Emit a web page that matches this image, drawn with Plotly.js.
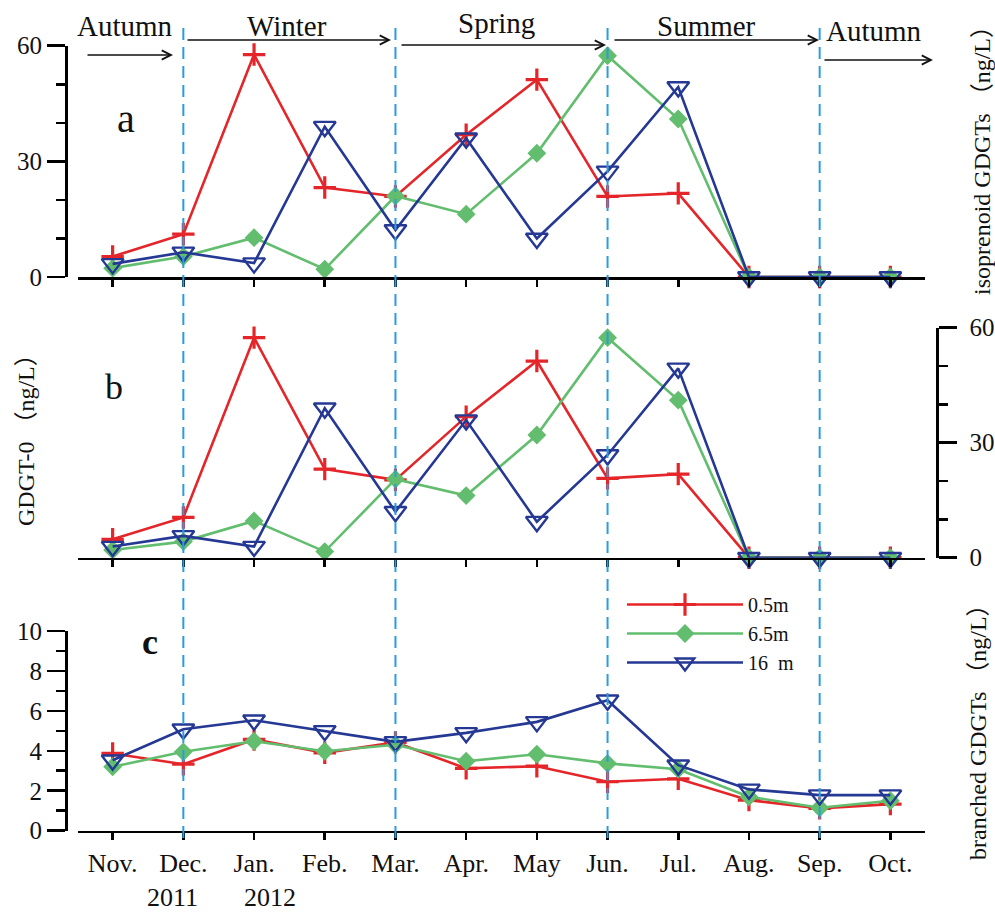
<!DOCTYPE html>
<html>
<head>
<meta charset="utf-8">
<script src="https://cdn.plot.ly/plotly-3.0.1.min.js"></script>
<style>html,body{margin:0;padding:0;background:#fff;}#chart{width:995px;height:912px;}</style>
</head>
<body>
<div id="chart"></div>
<script>
// ---------- data ----------
const months = ['Nov.','Dec.','Jan.','Feb.','Mar.','Apr.','May','Jun.','Jul.','Aug.','Sep.','Oct.'];
const depths = ['0.5m', '6.5m', '16\u00a0\u00a0m'];

// panel a: isoprenoid GDGTs (ng/L)
const iso_05 = [5.3, 11.1, 57.7, 23.2, 20.9, 36.9, 51.2, 20.9, 21.7, 0, 0, 0];
const iso_65 = [2.3, 5.3, 10.2, 2.0, 21.0, 16.3, 32.1, 57.4, 41.0, 0, 0, 0];
const iso_16 = [3.4, 6.4, 3.6, 39.0, 12.2, 36.0, 10.0, 27.4, 49.3, 0, 0, 0];

// panel b: GDGT-0 (ng/L)
const g0_05 = [4.8, 10.5, 57.4, 23.1, 20.3, 36.8, 51.3, 20.7, 21.8, 0, 0, 0];
const g0_65 = [2.0, 4.2, 9.6, 1.6, 20.5, 16.2, 32.0, 57.4, 41.1, 0, 0, 0];
const g0_16 = [2.9, 5.7, 2.9, 39.0, 12.0, 35.9, 9.4, 26.8, 49.4, 0, 0, 0];

// panel c: branched GDGTs (ng/L)
const br_05 = [3.87, 3.33, 4.57, 3.90, 4.42, 3.12, 3.23, 2.45, 2.60, 1.53, 1.12, 1.33];
const br_65 = [3.20, 3.95, 4.48, 3.98, 4.30, 3.48, 3.83, 3.37, 3.08, 1.70, 1.15, 1.50];
const br_16 = [3.53, 5.08, 5.53, 5.00, 4.45, 4.90, 5.45, 6.53, 3.28, 2.07, 1.78, 1.78];

const seasonBounds = ['Dec.', 'Mar.', 'Jun.', 'Sep.'];
const seasons = ['Autumn', 'Winter', 'Spring', 'Summer', 'Autumn'];
const yearLabels = ['2011', '2012'];
const panelLetters = ['a', 'b', 'c'];
const axisTitles = ['isoprenoid GDGTs \uff08ng/L\uff09', 'GDGT-0 \uff08ng/L\uff09', 'branched GDGTs \uff08ng/L\uff09'];

// ---------- styling ----------
const W = 995, H = 912;
const px = v => v / W;
const py = v => 1 - v / H;
const FONT = 'Liberation Serif, "Times New Roman", "Noto Sans CJK SC", serif';
const RED = 'rgb(228,38,42)', GREEN = 'rgb(98,190,110)', BLUE = 'rgb(36,56,148)', DASH = 'rgb(44,156,222)';

const styles = [
  {color: RED, marker: {symbol: 'cross-thin', size: 16, color: RED, line: {color: RED, width: 3.2}}},
  {color: GREEN, marker: {symbol: 'diamond', size: 14.5, color: GREEN, line: {width: 0}}},
  {color: BLUE, marker: {symbol: 'triangle-down-open', size: 19, color: BLUE, line: {color: BLUE, width: 2.4}}}
];

const panels = [
  {series: [iso_05, iso_65, iso_16], xa: 'x', ya: 'y', legend: false},
  {series: [g0_05, g0_65, g0_16], xa: 'x2', ya: 'y2', legend: false},
  {series: [br_05, br_65, br_16], xa: 'x3', ya: 'y3', legend: true}
];

const traces = [];
panels.forEach(p => {
  p.series.forEach((vals, i) => {
    traces.push({
      type: 'scatter', mode: 'lines+markers',
      x: months, y: vals, xaxis: p.xa, yaxis: p.ya,
      name: depths[i], legendgroup: depths[i], showlegend: p.legend,
      line: {color: styles[i].color, width: 2.6},
      marker: styles[i].marker,
      cliponaxis: false, hoverinfo: 'skip'
    });
  });
});

const axBase = {
  showline: true, linecolor: '#000', linewidth: 2.6, showgrid: false, zeroline: false,
  ticks: 'outside', tickcolor: '#000', tickwidth: 2.6,
  tickfont: {family: FONT, size: 25, color: '#111'}, fixedrange: true
};

function xAxis(anchor, labels) {
  return Object.assign({}, axBase, {
    type: 'category', anchor: anchor, domain: [px(78), px(925)], range: [-0.49, 11.49],
    ticklen: 7, showticklabels: labels, tickfont: {family: FONT, size: 26, color: '#111'},
    categoryorder: 'array', categoryarray: months
  });
}
function yAxis(domain, range, major, minor, side, pos, labels, overlay) {
  const a = Object.assign({}, axBase, {
    anchor: 'free', position: pos, side: side, range: range,
    tickmode: 'array', tickvals: major, ticklen: 18, showticklabels: labels,
    minor: {tickmode: 'array', tickvals: minor, ticks: 'outside', ticklen: 9, tickwidth: 2.6, tickcolor: '#000', showgrid: false}
  });
  if (overlay) a.overlaying = overlay; else a.domain = domain;
  return a;
}

const domA = [py(277), py(45.7)];
const domB = [py(557.7), py(327.7)];
const domC = [py(830.7), py(631)];
const LPOS = px(66), RPOS = px(937);

const yB = yAxis(domB, [0, 60], [0, 30, 60], [10, 20, 40, 50], 'right', RPOS, true);
yB.ticklabelstandoff = 8;

const layout = {
  width: W, height: H, autosize: false,
  margin: {l: 0, r: 0, t: 0, b: 0, pad: 0},
  paper_bgcolor: '#fff', plot_bgcolor: 'rgba(0,0,0,0)',
  font: {family: FONT, color: '#111'},
  showlegend: true,
  legend: {
    x: px(622), y: py(585), xanchor: 'left', yanchor: 'top',
    bgcolor: 'rgba(0,0,0,0)', borderwidth: 0,
    font: {family: FONT, size: 20, color: '#111'},
    itemwidth: 116, tracegroupgap: 0, traceorder: 'normal', itemclick: false, itemdoubleclick: false
  },
  xaxis: xAxis('y', false),
  xaxis2: xAxis('y2', false),
  xaxis3: xAxis('y3', true),
  // panel a: left labelled, right overlay unlabelled
  yaxis: yAxis(domA, [0, 60], [0, 30, 60], [10, 20, 40, 50], 'left', LPOS, true),
  yaxis4: yAxis(null, [0, 60], [0, 30, 60], [10, 20, 40, 50], 'right', RPOS, false, 'y'),
  // panel b: right labelled (carries data), left overlay unlabelled
  yaxis2: yB,
  yaxis5: yAxis(null, [0, 60], [0, 30, 60], [10, 20, 40, 50], 'left', LPOS, false, 'y2'),
  // panel c: left labelled, right overlay unlabelled
  yaxis3: yAxis(domC, [0, 10], [0, 2, 4, 6, 8, 10], [1, 3, 5, 7, 9], 'left', LPOS, true),
  yaxis6: yAxis(null, [0, 10], [0, 2, 4, 6, 8, 10], [1, 3, 5, 7, 9], 'right', RPOS, false, 'y3'),
  shapes: seasonBounds.map(m => ({
    type: 'line', xref: 'x3', yref: 'paper',
    x0: months.indexOf(m), x1: months.indexOf(m), y0: py(838), y1: py(27),
    line: {color: DASH, width: 2, dash: '12px,7px'}, layer: 'above'
  })),
  annotations: []
};

// season labels
const seasonPos = [[125, 26], [287, 26], [496, 23], [706, 26], [874, 31]];
seasons.forEach((s, i) => {
  layout.annotations.push({xref: 'paper', yref: 'paper', x: px(seasonPos[i][0]), y: py(seasonPos[i][1]),
    xanchor: 'center', yanchor: 'middle', text: s, showarrow: false,
    font: {family: FONT, size: 29, color: '#111'}});
});
// season arrows [tailX, headX, y]
const arrows = [[86, 173, 55], [186, 391, 40], [400, 606, 45], [613, 819, 40], [823, 933, 60]];
arrows.forEach(a => {
  layout.annotations.push({xref: 'paper', yref: 'paper', x: px(a[1]), y: py(a[2]),
    ax: a[0] - a[1], ay: 0, text: '', showarrow: true, arrowhead: 5, arrowsize: 1.4,
    arrowwidth: 1.3, arrowcolor: '#111', standoff: 0, startstandoff: 0});
});
// panel letters
const letterPos = [[126, 118, 40, false], [114, 387, 36, false], [150, 642, 36, true]];
panelLetters.forEach((l, i) => {
  const p = letterPos[i];
  layout.annotations.push({xref: 'paper', yref: 'paper', x: px(p[0]), y: py(p[1]),
    xanchor: 'center', yanchor: 'middle', text: p[3] ? '<b>' + l + '</b>' : l, showarrow: false,
    font: {family: FONT, size: p[2], color: '#111'}});
});
// axis titles
const titlePos = [[982, 155], [26, 434], [978, 726]];
axisTitles.forEach((t, i) => {
  layout.annotations.push({xref: 'paper', yref: 'paper', x: px(titlePos[i][0]), y: py(titlePos[i][1]),
    xanchor: 'center', yanchor: 'middle', text: t, textangle: -90, showarrow: false,
    font: {family: FONT, size: 24, color: '#111'}});
});
// years under Dec./Jan.
const yearPos = [[172, 897], [270, 897]];
yearLabels.forEach((y, i) => {
  layout.annotations.push({xref: 'paper', yref: 'paper', x: px(yearPos[i][0]), y: py(yearPos[i][1]),
    xanchor: 'center', yanchor: 'middle', text: y, showarrow: false,
    font: {family: FONT, size: 26, color: '#111'}});
});

Plotly.newPlot('chart', traces, layout, {displayModeBar: false, staticPlot: true});
</script>
</body>
</html>
